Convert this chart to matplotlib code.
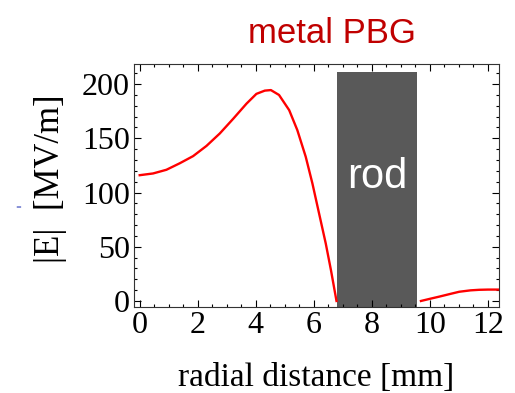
import matplotlib.pyplot as plt
from matplotlib.ticker import MultipleLocator

# field inside the gap (before the rod)
x_in = [0, 0.46, 0.92, 1.38, 1.84, 2.30, 2.76, 3.22, 3.68, 4.02, 4.31, 4.52, 4.80, 5.15,
        5.43, 5.72, 5.95, 6.18, 6.41, 6.59, 6.78]
e_in = [116, 117.6, 121, 127, 133.6, 143, 154.5, 168, 182, 191, 194, 194.5, 190, 176,
        157.6, 133, 108.4, 80.7, 53, 28.3, 0]
# field beyond the rod
x_out = [9.69, 10.0, 10.32, 10.7, 11.01, 11.4, 11.7, 12.0, 12.4]
e_out = [0, 2, 4, 6.5, 8.5, 9.8, 10.3, 10.5, 10.5]

rod_x = [6.81, 9.55]
rod_top = 211

fig = plt.figure(figsize=(5.15, 3.93), dpi=100)
ax = fig.add_axes([0.260, 0.219, 0.709, 0.618])

ax.bar((rod_x[0] + rod_x[1]) / 2, rod_top + 10, width=rod_x[1] - rod_x[0],
       bottom=-10, color='#595959', zorder=1)
ax.text((rod_x[0] + rod_x[1]) / 2, 114, 'rod', color='white', ha='center', va='center',
        fontsize=30, family='Liberation Sans', zorder=3)

ax.plot(x_in, e_in, color='red', lw=1.7, zorder=2)
ax.plot(x_out, e_out, color='red', lw=1.7, zorder=2)

ax.set_xlim(-0.2, 12.38)
ax.set_ylim(-5.5, 218.5)
ax.xaxis.set_major_locator(MultipleLocator(2))
ax.xaxis.set_minor_locator(MultipleLocator(0.5))
ax.yaxis.set_major_locator(MultipleLocator(50))
ax.yaxis.set_minor_locator(MultipleLocator(10))
ax.tick_params(which='both', direction='in', top=True, right=True, width=0.8)
ax.tick_params(which='major', length=5, labelsize=23, pad=3)
ax.tick_params(which='minor', length=2.5)
for lab in ax.get_xticklabels() + ax.get_yticklabels():
    lab.set_family('Liberation Serif')
for s in ax.spines.values():
    s.set_linewidth(0.8)
    s.set_color('#333333')

ax.set_xlabel('radial distance [mm]', family='Liberation Serif', fontsize=24, labelpad=16)
ax.set_ylabel('|E|  [MV/m]', family='Liberation Serif', fontsize=25)
ax.yaxis.set_label_coords(-0.183, 0.53)

fig.text(0.644, 0.915, 'metal PBG', color='#C00000', fontsize=25,
         family='Liberation Sans', ha='center', va='center')
fig.text(0.035, 0.473, '=', color='#3344bb', fontsize=5, ha='center', va='center')

fig.savefig('out.png', dpi=100)
